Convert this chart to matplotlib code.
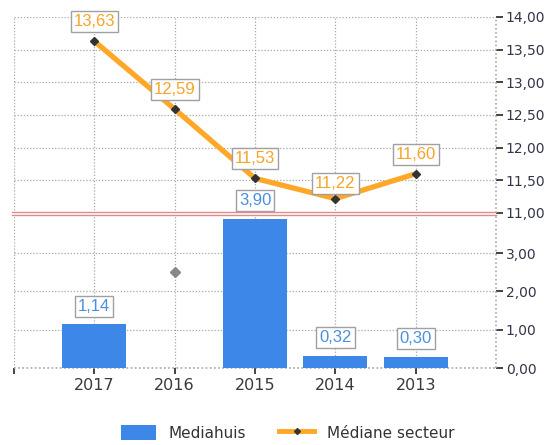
import matplotlib.pyplot as plt
import numpy as np
from matplotlib.lines import Line2D
from matplotlib.patches import Patch
from matplotlib.ticker import FuncFormatter

# ================= Data ===============
years = ['2017', '2016', '2015', '2014', '2013']
mediahuis = [1.14, np.nan, 3.90, 0.32, 0.30]
mediane_secteur = [13.63, 12.59, 11.53, 11.22, 11.60]
# 2016 has no Mediahuis value, the chart shows a grey placeholder point instead
missing_year = 1
missing_value = 2.5

top_ticks = np.arange(11.0, 14.01, 0.5)
bottom_ticks = np.arange(0.0, 3.01, 1.0)

# ================= Style ===============
BLUE = '#3d87e8'
BLUE_TXT = '#4a8fe0'
ORANGE = '#ffa726'
ORANGE_TXT = '#f5a42a'
AXIS_TXT = '#34344a'
GRID = '#a8a8a8'
DOTS = (0, (1, 1.5))


def fmt(v, pos=None):
    return f"{v:.2f}".replace('.', ',')


fig = plt.figure(figsize=(5.58, 4.45), dpi=100)

L, W = 14 / 558, 482 / 558
ax_top = fig.add_axes([L, (445 - 213) / 445, W, 196 / 445])
ax_bot = fig.add_axes([L, (445 - 368) / 445, W, 153.2 / 445])

x = np.arange(len(years))

for ax in (ax_top, ax_bot):
    ax.set_facecolor('none')
    ax.set_xlim(-1, 5)
    ax.set_xticks(np.arange(-1, 5))
    ax.yaxis.tick_right()
    ax.yaxis.set_major_formatter(FuncFormatter(fmt))
    ax.grid(True, color=GRID, linestyle=DOTS, linewidth=0.9)
    ax.axvline(5, color=GRID, linestyle=DOTS, linewidth=1.2, clip_on=False)
    ax.set_axisbelow(True)
    for side in ax.spines:
        ax.spines[side].set_visible(False)
    ax.tick_params(axis='y', direction='out', length=5, width=1.2, color='#222222',
                   labelsize=10, labelcolor=AXIS_TXT, pad=2)

# ---- top panel : Médiane secteur ----
ax_top.set_ylim(11, 14)
ax_top.set_yticks(top_ticks)
ax_top.tick_params(axis='x', length=0, labelbottom=False)
ax_top.plot(x, mediane_secteur, color=ORANGE, linewidth=3.8, solid_capstyle='round',
            zorder=3)
ax_top.plot(x, mediane_secteur, linestyle='none', marker='D', markersize=4,
            color='#333333', zorder=4)
for xi, v in zip(x, mediane_secteur):
    dy = 11 if v < 11.3 else 14
    ax_top.annotate(fmt(v), (xi, v), xytext=(0, dy), textcoords='offset points',
                    ha='center', va='center', fontsize=12, color=ORANGE_TXT,
                    family='Liberation Sans',
                    bbox=dict(boxstyle='square,pad=0.18', fc='white', ec='#a0a0a0', lw=1),
                    zorder=5)

# ---- bottom panel : Mediahuis ----
ax_bot.set_ylim(0, 4)
ax_bot.set_yticks(bottom_ticks)
ax_bot.axhline(0, color=GRID, linestyle=DOTS, linewidth=1.2, clip_on=False)
ax_bot.set_xticklabels([''] + years)
ax_bot.tick_params(axis='x', direction='out', length=4, width=1.2, color='#222222',
                   labelsize=11.5, labelcolor='#3a3a3a', pad=3)
ax_bot.bar(x, mediahuis, width=0.8, color=BLUE, zorder=3)
ax_bot.plot([missing_year], [missing_value], linestyle='none', marker='D',
            markersize=5, color='#888888', zorder=4)
for xi, v in zip(x, mediahuis):
    if np.isnan(v):
        continue
    ax_bot.annotate(fmt(v), (xi, v), xytext=(0, 13), textcoords='offset points',
                    ha='center', va='center', fontsize=12, color=BLUE_TXT,
                    family='Liberation Sans', annotation_clip=False,
                    bbox=dict(boxstyle='square,pad=0.18', fc='white', ec='#a0a0a0', lw=1),
                    zorder=6)

# axis break marker
for yb in (212, 215):
    fig.add_artist(Line2D([12 / 558, 496 / 558], [(445 - yb) / 445] * 2,
                          color='#e08a8a', linewidth=1.0))

# ================= Legend ===============
handles = [Patch(facecolor=BLUE, edgecolor='none'),
           Line2D([], [], color=ORANGE, linewidth=3.5, marker='D', markersize=3,
                  markerfacecolor='#333333', markeredgecolor='#333333')]
fig.legend(handles, ['Mediahuis', 'Médiane secteur'], loc='center',
           bbox_to_anchor=(0.515, 0.027), ncol=2, frameon=False, fontsize=11,
           handlelength=2.3, handleheight=1.1, columnspacing=2.2,
           labelcolor='#333333')

fig.savefig('out.png', dpi=100)
